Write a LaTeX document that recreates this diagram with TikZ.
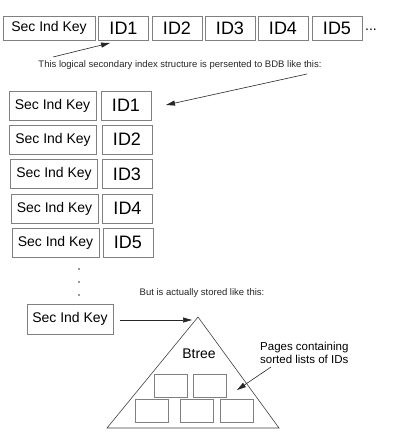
\documentclass[tikz,border=0pt]{standalone}
\usepackage{fontspec}
\setmainfont{Liberation Sans}
\usetikzlibrary{arrows.meta}
\begin{document}
\begin{tikzpicture}[x=1pt,y=-1pt,
  box/.style={draw=black!50,line width=1pt,inner sep=0pt,fill=white},
  keybox/.style={box,minimum width=87pt,minimum height=29pt,font=\fontsize{14}{14}\selectfont},
  idbox/.style={box,minimum width=50pt,minimum height=29pt,font=\fontsize{18}{18}\selectfont},
  page/.style={draw=black!50,line width=1pt,inner sep=0pt,minimum width=33pt,minimum height=23pt},
  arr/.style={draw=black!85,line width=0.6pt,-{Triangle[length=9pt,width=5pt]}},
  small/.style={font=\fontsize{9.5}{9.5}\selectfont,text=black!85,inner sep=0pt}
]
\useasboundingbox (0,0) rectangle (400,439);
% top row
\node[keybox,minimum width=92pt,minimum height=24pt] (k0) at (49,28) {Sec Ind Key};
\node[idbox,minimum height=24pt] (t1) at (123.5,28) {ID1};
\node[idbox,minimum height=24pt] (t2) at (177,28) {ID2};
\node[idbox,minimum height=24pt] (t3) at (230,28) {ID3};
\node[idbox,minimum height=24pt] (t4) at (283,28) {ID4};
\node[idbox,minimum height=24pt] (t5) at (337,28) {ID5};
\node[anchor=base,inner sep=0pt,font=\fontsize{14}{14}\selectfont] (ell) at (371,30) {...};
% arrow 1
\coordinate (a1s) at (53,57);
\coordinate (a1e) at (110,43);
\draw[arr] (a1s) -- (a1e);
\node[small] (txt1) at (180,65) {This logical secondary index structure is persented to BDB like this:};
% arrow 2
\coordinate (a2s) at (307,74);
\coordinate (a2e) at (166,105);
\draw[arr] (a2s) -- (a2e);
% second group
\node[keybox] (k1) at (52.5,105.5) {Sec Ind Key};
\node[idbox] (i1) at (126,105.5) {ID1};
\node[keybox] (k2) at (53,139.5) {Sec Ind Key};
\node[idbox] (i2) at (127,139.5) {ID2};
\node[keybox] (k3) at (54,174) {Sec Ind Key};
\node[idbox] (i3) at (127,174) {ID3};
\node[keybox] (k4) at (54.5,208.5) {Sec Ind Key};
\node[idbox] (i4) at (127.5,208.5) {ID4};
\node[keybox] (k5) at (55.5,242.5) {Sec Ind Key};
\node[idbox] (i5) at (128,242.5) {ID5};
% vertical dots
\fill[black!80] (79,269) circle (0.9) (79,282) circle (0.9) (79,295) circle (0.9);
\node[small] (txt2) at (202,293) {But is actually stored like this:};
% lower key
\node[keybox,minimum width=86pt,minimum height=30pt] (k6) at (70,319) {Sec Ind Key};
% triangle
\coordinate (apex) at (198,317);
\coordinate (bl) at (107,428);
\coordinate (br) at (279,428);
\draw[black!75,line width=0.6pt] (apex) -- (bl) -- (br) -- cycle;
\coordinate (a3s) at (120,320);
\coordinate (a3e) at (192,320);
\draw[arr] (a3s) -- (a3e);
\node[inner sep=0pt,font=\fontsize{14}{14}\selectfont] (bt) at (199,354) {Btree};
\node[page] (p1) at (170.5,385.5) {};
\node[page] (p2) at (210,385.5) {};
\node[page] (p3) at (151.5,411) {};
\node[page] (p4) at (196.5,411) {};
\node[page] (p5) at (236.5,411) {};
\node[anchor=west,align=left,inner sep=0pt,font=\fontsize{11.5}{12.5}\selectfont] (pg) at (260,353) {Pages containing\\sorted lists of IDs};
\coordinate (a4s) at (271,367);
\coordinate (a4e) at (237,390);
\draw[arr] (a4s) -- (a4e);
\end{tikzpicture}
\end{document}
